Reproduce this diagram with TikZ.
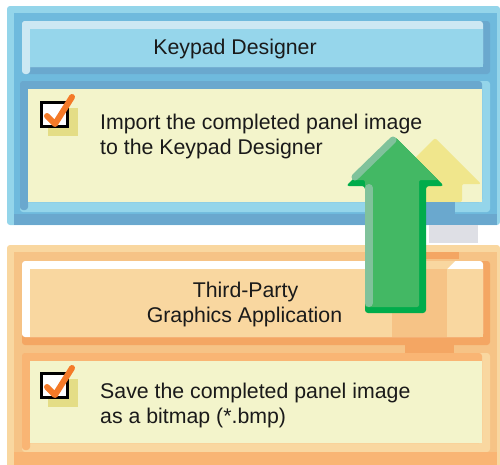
\documentclass[tikz,border=0pt]{standalone}
\usepackage{fontspec}
\setmainfont{Liberation Sans}
\definecolor{bLight}{HTML}{94D5EA}
\definecolor{bMid}{HTML}{6FBADD}
\definecolor{bDark}{HTML}{6AA8CE}
\definecolor{bHi}{HTML}{CCE8F3}
\definecolor{bHead}{HTML}{96D6EB}
\definecolor{oLight}{HTML}{F9D7A0}
\definecolor{oMid}{HTML}{F6C386}
\definecolor{oDark}{HTML}{F4A663}
\definecolor{oOut}{HTML}{F9B574}
\definecolor{panel}{HTML}{F3F4CB}
\definecolor{chkShadow}{HTML}{E4DD86}
\definecolor{chkOrange}{HTML}{F47A28}
\definecolor{gMain}{HTML}{43B864}
\definecolor{gDark}{HTML}{00AC4B}
\definecolor{gLight}{HTML}{80C29B}
\definecolor{shadowY}{HTML}{F0E68C}
\definecolor{grayS}{HTML}{DEDFE5}
\definecolor{txtc}{HTML}{1A1A1A}
\begin{document}
\begin{tikzpicture}[x=1pt,y=-1pt,
  txt/.style={inner sep=0pt, font=\fontsize{21.3}{25}\selectfont, text=txtc},
  chkbox/.style={draw=black, line width=3pt, fill=white, minimum width=26pt, minimum height=24pt, inner sep=0pt},
  chkmark/.style={draw=chkOrange, line width=6pt, line cap=round, line join=round}]
\useasboundingbox (0,0) rectangle (500,464);

% ---------- Blue frame (Keypad Designer) ----------
\fill[bLight, rounded corners=3pt] (7,6) rectangle (500,225);
\fill[bMid] (14,13) rectangle (497,225);
\fill[bDark] (14,214) rectangle (497,225);
% header
\fill[bDark, rounded corners=3pt] (22,21) rectangle (490,74);
\fill[bHi, rounded corners=3pt] (22,21) rectangle (483,67);
\fill[bHi, rounded corners=3pt] (22,21) rectangle (30,74);
\fill[bHead] (30,29) rectangle (483,67);
% content panel
\fill[bLight, rounded corners=3pt] (20,81) rectangle (490,212);
\fill[bDark, rounded corners=3pt] (20,81) rectangle (482,202);
\fill[bDark, rounded corners=3pt] (20,81) rectangle (28,210);
\fill[panel] (28,89) rectangle (482,202);

% shadow of the arrow on the blue frame
\fill[shadowY, rounded corners=2pt] (435,138) -- (481,184) -- (462,184) -- (462,202) -- (401,202) -- (401,184) -- (389,184) -- cycle;
\fill[bDark] (400,202) rectangle (455,225);
\fill[grayS] (429,225) rectangle (478,243);

% ---------- Orange frame (Third-Party) ----------
\fill[oLight, rounded corners=3pt] (7,245) rectangle (500,470);
\fill[oMid] (14,252) rectangle (497,470);
% header
\fill[oDark, rounded corners=3pt] (22,261) rectangle (490,345);
\fill[white, rounded corners=3pt] (22,261) rectangle (483,337);
\fill[oLight] (30,269) rectangle (483,337);
% shadow of the arrow on the header
\fill[oDark] (423,252) rectangle (459,259);
\fill[oLight] (423,261) -- (455,261) -- (447,269) -- (423,269) -- cycle;
\fill[oMid] (392,269) rectangle (447,337);
\fill[oDark] (405,345) rectangle (454,353);
% content panel
\fill[oLight, rounded corners=3pt] (22,353) rectangle (490,452);
\fill[oOut, rounded corners=3pt] (22,353) rectangle (482,443);
\fill[oOut, rounded corners=3pt] (22,353) rectangle (30,450);
\fill[panel] (30,361) rectangle (482,443);
\fill[oOut] (14,452) rectangle (497,470);

% ---------- Check boxes ----------
\fill[chkShadow] (48,108) rectangle (78,136);
\node[chkbox] (cb1) at (54.5,114.5) {};
\draw[chkmark] (47,116) -- (55,124) -- (72,97);

\fill[chkShadow] (48,379) rectangle (78,407);
\node[chkbox] (cb2) at (54.5,385.5) {};
\draw[chkmark] (47,387) -- (55,395) -- (72,368);

% ---------- Texts ----------
\node[txt, anchor=base] (kd) at (235,54) {Keypad Designer};
\node[txt, anchor=base west] (imp1) at (100,129) {Import the completed panel image};
\node[txt, anchor=base west] (imp2) at (100,154) {to the Keypad Designer};
\node[txt, anchor=base] (tp1) at (245.5,297) {Third-Party};
\node[txt, anchor=base] (tp2) at (244.5,322) {Graphics Application};
\node[txt, anchor=base west] (sv1) at (100,398) {Save the completed panel image};
\node[txt, anchor=base west] (sv2) at (100,423) {as a bitmap (*.bmp)};

% ---------- Green arrow ----------
\fill[gDark, rounded corners=3pt] (395,137) -- (444,186) -- (426,186) -- (426,313) -- (365,313) -- (365,186) -- (346,186) -- cycle;
\fill[gMain, rounded corners=2pt] (395,137) -- (438,180) -- (419,180) -- (419,307) -- (365,307) -- (365,180) -- (352,180) -- cycle;
\draw[gLight, line width=7pt, line cap=round] (355,177) -- (393,140);
\draw[gLight, line width=8pt, line cap=round] (369,188) -- (369,303);
\end{tikzpicture}
\end{document}
